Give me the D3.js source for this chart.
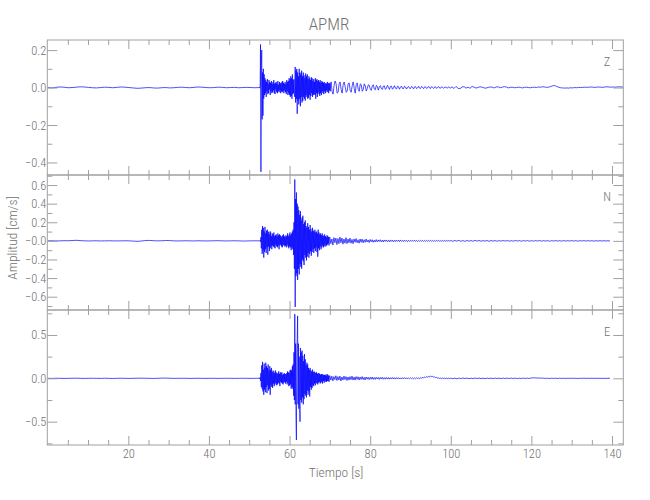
<!DOCTYPE html>
<html><head><meta charset="utf-8">
<script src="https://cdn.jsdelivr.net/npm/d3@7"></script>
<style>body{margin:0;background:#fff}svg{display:block}</style>
</head><body>
<svg id="chart" width="650" height="500"></svg>
<script>
// ---------- texts ----------
const title = "APMR";
const xTitle = "Tiempo [s]";
const yTitle = "Amplitud [cm/s]";
const componentNames = ["Z", "N", "E"];

// ---------- axes ticks ----------
const xTicks = [20, 40, 60, 80, 100, 120, 140];
const xTickLabels = ["20", "40", "60", "80", "100", "120", "140"];
const xMinorTicks = [5, 10, 15, 25, 30, 35, 45, 50, 55, 65, 70, 75, 85, 90, 95, 105, 110, 115, 125, 130, 135];
const xDomain = [-0.1, 142.8];

const zTicks = [-0.4, -0.2, 0.0, 0.2];
const zTickLabels = ["\u22120.4", "\u22120.2", "0.0", "0.2"];
const zMinor = [-0.3, -0.1, 0.1];
const zDomain = [-0.467, 0.254];

const nTicks = [-0.6, -0.4, -0.2, 0.0, 0.2, 0.4, 0.6];
const nTickLabels = ["\u22120.6", "\u22120.4", "\u22120.2", "\u22120.0", "0.2", "0.4", "0.6"];
const nMinor = [-0.7, -0.5, -0.3, -0.1, 0.1, 0.3, 0.5, 0.7];
const nDomain = [-0.743, 0.708];

const eTicks = [-0.5, 0.0, 0.5];
const eTickLabels = ["\u22120.5", "0.0", "0.5"];
const eMinor = [-0.75, -0.25, 0.25, 0.75];
const eDomain = [-0.769, 0.788];

// ---------- data: time spans of each trace segment [s] ----------
const zSpans = [[0, 52.4], [52.5, 70.2], [70.3, 100.0], [100.3, 143.2]];
const nSpans = [[0, 52.4], [52.5, 69.9], [70.0, 99.75], [100.0, 139.5]];
const eSpans = [[0, 52.4], [52.5, 69.9], [70.0, 99.75], [100.0, 139.5]];

// ---------- data: Z component [cm/s] ----------
const zNoise = [0.000, -0.002, 0.001, 0.003, 0.002, -0.001, 0.000, 0.002, 0.004, 0.003, 0.001, -0.001, -0.002, 0.000, 0.002, 0.001, -0.001, 0.001, 0.003, 0.002, 0.000, -0.002, -0.004, -0.003, -0.001, 0.000, -0.002, -0.003, -0.001, 0.000, -0.002, -0.001, 0.001, 0.002, 0.000, -0.001, 0.001, 0.003, 0.002, 0.000, -0.001, 0.000, 0.002, 0.001, -0.001, 0.000, 0.001, -0.001, 0.000, 0.001, 0.000, -0.001, 0.000];
const zStrong = [0.002, -0.003, 0.004,
  0.23, -0.45, 0.12, 0.20, -0.17, 0.08, -0.15, 0.10, -0.06, 0.07,
  -0.04, 0.05, -0.03, 0.04, -0.05, 0.03, -0.02, 0.045, -0.035, 0.02,
  -0.03, 0.04, -0.01, 0.03, -0.04, 0.025, -0.02, 0.035, -0.03, 0.02,
  -0.025, 0.03, -0.015, 0.04, -0.03, 0.02, -0.035, 0.025, -0.01, 0.03,
  -0.025, 0.02, -0.03, 0.035, -0.02, 0.015, -0.025, 0.03, -0.015, 0.025,
  -0.03, 0.02, -0.02, 0.03, -0.025, 0.035, -0.02, 0.025, -0.03, 0.02,
  -0.015, 0.03, -0.025, 0.02, -0.035, 0.04, -0.02, 0.03, -0.04, 0.035,
  -0.03, 0.05, -0.04, 0.045, -0.05, 0.06, -0.045, 0.05, -0.06, 0.07, -0.035, 0.04, -0.03, 0.045, -0.04,
  -0.05, 0.11, -0.08, 0.09, -0.06, 0.10, -0.14, 0.08, -0.07, 0.06,
  -0.09, 0.10, -0.06, 0.08, -0.10, 0.07, -0.05, 0.09, -0.08, 0.06,
  -0.07, 0.08, -0.05, 0.065, -0.06, 0.05, -0.07, 0.075, -0.04, 0.06,
  -0.05, 0.07, -0.06, 0.045, -0.055, 0.06, -0.04, 0.05, -0.065, 0.04,
  -0.045, 0.055, -0.03, 0.05, -0.05, 0.035, -0.04, 0.045, -0.035, 0.03,
  -0.04, 0.05, -0.06, 0.04, -0.03, 0.045, -0.05, 0.035, -0.025, 0.04,
  -0.035, 0.03, -0.045, 0.04, -0.03, 0.025, -0.04, 0.035, -0.02, 0.03,
  -0.03, 0.025, -0.035, 0.03, -0.02, 0.02, -0.03, 0.025, -0.015, 0.02,
  -0.025, 0.03, -0.02, 0.025, -0.03, 0.02, -0.015, 0.025, -0.02, 0.015];
const zCoda = [0.03, -0.02, -0.035, 0.01, 0.035, 0.02, -0.03, -0.025, 0.02, 0.03, -0.01, -0.03, 0.015, 0.03, 0.005, -0.025, -0.02, 0.02, 0.025, -0.015,
  -0.025, 0.01, 0.03, -0.005, -0.03, 0.015, 0.025, -0.01, -0.02, 0.02, 0.015, -0.02, -0.01, 0.02, 0.01, -0.018, -0.005, 0.015, 0.012, -0.01,
  -0.015, 0.01, 0.015, -0.008, -0.012, 0.012, 0.006, -0.014, 0.004, 0.01, -0.006, -0.01, 0.008, 0.009, -0.01, -0.004, 0.012, 0.002, -0.01, 0.006,
  0.008, -0.009, -0.003, 0.01, -0.002, -0.008, 0.007, 0.005, -0.009, 0.002, 0.008, -0.005, -0.006, 0.007, 0.003, -0.008, 0.001, 0.006, -0.004, -0.005,
  0.006, 0.002, -0.007, 0.004, 0.005, -0.006, -0.002, 0.007, -0.003, -0.005, 0.006, 0.001, -0.006, 0.004, 0.004, -0.005, -0.001, 0.006, -0.003, -0.004,
  0.005, 0.000, -0.005, 0.004, 0.003, -0.005, 0.001, 0.005, -0.003, -0.003, 0.004, 0.001, -0.004, 0.002, 0.003, -0.003, -0.001, 0.004, -0.002, -0.002];
const zTail = [0.004, -0.005, 0.006, -0.004, -0.006, 0.003, 0.005, -0.003, 0.002, -0.004, 0.006, 0.002, -0.003, 0.001, 0.004, 0.002, -0.002, -0.003, 0.001, 0.003,
  0.002, -0.002, 0.003, 0.004, -0.001, 0.002, 0.005, 0.003, -0.002, 0.001, 0.002, -0.001, 0.000, 0.002, 0.001, -0.002, 0.001, 0.002, 0.000, -0.001,
  0.001, 0.002, 0.000, 0.003, 0.002, 0.004, 0.003, 0.001, 0.002, 0.005, 0.009, 0.011, 0.006, 0.002, -0.001, -0.002, -0.003, -0.002, -0.003, -0.001,
  -0.002, 0.000, -0.001, 0.001, 0.000, 0.001, 0.002, 0.001, 0.002, 0.003, 0.002, 0.001, 0.002, 0.003, 0.002, 0.001, 0.003, 0.004, 0.003, 0.002, 0.003, 0.002, 0.003, 0.004, 0.003, 0.003, 0.003];

// ---------- data: N component [cm/s] ----------
const nNoise = [0.000, 0.001, -0.001, 0.000, 0.002, 0.001, 0.004, 0.006, 0.003, 0.000, -0.001, 0.000, 0.001, -0.001, 0.000, 0.001, 0.000, -0.001, 0.000, 0.001, 0.000, -0.002, -0.005, -0.002, 0.003, 0.005, 0.002, 0.000, 0.001, 0.004, 0.003, 0.000, -0.001, 0.000, 0.001, 0.000, -0.001, 0.001, 0.000, -0.001, 0.000, 0.001, 0.002, 0.000, -0.001, 0.000, 0.001, 0.000, -0.002, -0.001, 0.000, 0.001, 0.000];
const nStrong = [0.002, -0.003, 0.005, -0.01, 0.04,
  -0.08, 0.12, -0.14, 0.16, -0.10, 0.14, -0.18, 0.10, -0.12, 0.15,
  -0.09, 0.08, -0.13, 0.11, -0.07, 0.12, -0.15, 0.09, -0.06, 0.10,
  -0.11, 0.07, -0.08, 0.10, -0.06, 0.05, -0.09, 0.08, -0.05, 0.07,
  -0.06, 0.09, -0.07, 0.05, -0.08, 0.06, -0.04, 0.07, -0.06, 0.05,
  -0.07, 0.08, -0.05, 0.06, -0.09, 0.07, -0.05, 0.06, -0.04, 0.05,
  -0.06, 0.04, -0.07, 0.06, -0.05, 0.07, -0.04, 0.05, -0.06, 0.04,
  -0.05, 0.06, -0.07, 0.05, -0.04, 0.08, -0.06, 0.05, -0.08, 0.07,
  -0.06, 0.09, -0.07, 0.06, -0.10, 0.08, -0.07, 0.10, -0.09, 0.12,
  -0.15, 0.20, -0.30, 0.66, -0.71, 0.45, -0.38, 0.52, -0.35, 0.40,
  -0.42, 0.37, -0.30, 0.33, -0.36, 0.28, -0.25, 0.32, -0.28, 0.22,
  -0.30, 0.25, -0.20, 0.27, -0.22, 0.18, -0.26, 0.20, -0.15, 0.22,
  -0.18, 0.16, -0.21, 0.14, -0.17, 0.19, -0.13, 0.15, -0.18, 0.12,
  -0.14, 0.17, -0.11, 0.13, -0.16, 0.10, -0.12, 0.14, -0.09, 0.11,
  -0.13, 0.10, -0.08, 0.12, -0.11, 0.09, -0.07, 0.10, -0.12, 0.08,
  -0.17, 0.12, -0.08, 0.09, -0.10, 0.07, -0.06, 0.08, -0.09, 0.06,
  -0.07, 0.08, -0.05, 0.06, -0.07, 0.05, -0.06, 0.07, -0.04, 0.05,
  -0.06, 0.04, -0.05, 0.06, -0.04, 0.05, -0.03, 0.04, -0.05, 0.04];
const nCoda = [0.04, -0.03, 0.02, -0.045, 0.035, -0.02, 0.03, -0.04, 0.025, -0.03, 0.04, -0.02, 0.03, -0.035, 0.02, -0.025, 0.035, -0.03, 0.02, -0.02,
  0.03, -0.025, 0.015, -0.03, 0.02, -0.015, 0.025, -0.02, 0.012, -0.025, 0.02, -0.015, 0.018, -0.02, 0.012, -0.015, 0.02, -0.012, 0.01, -0.018,
  0.015, -0.01, 0.012, -0.015, 0.008, -0.012, 0.014, -0.01, 0.01, -0.008, 0.012, -0.01, 0.008, -0.012, 0.01, -0.006, 0.01, -0.008, 0.006, -0.01,
  0.01, -0.006, 0.008, -0.01, 0.006, -0.008, 0.009, -0.005, 0.007, -0.008, 0.01, -0.006, 0.005, -0.007, 0.008, -0.005, 0.006, -0.008, 0.005, -0.006,
  0.007, -0.005, 0.006, -0.004, 0.008, -0.006, 0.005, -0.007, 0.004, -0.005, 0.006, -0.004, 0.005, -0.006, 0.004, -0.005, 0.006, -0.004, 0.005, -0.004,
  0.005, -0.004, 0.004, -0.005, 0.003, -0.004, 0.005, -0.003, 0.004, -0.004, 0.003, -0.005, 0.004, -0.003, 0.004, -0.004, 0.003, -0.003, 0.004, -0.003];
const nTail = [0.003, -0.004, 0.004, -0.003, 0.005, -0.004, 0.003, -0.005, 0.004, -0.003, 0.003, -0.004, 0.005, -0.003, 0.004, -0.004, 0.003, -0.003, 0.004, -0.005,
  0.004, -0.003, 0.003, -0.004, 0.003, -0.003, 0.004, -0.002, 0.003, -0.003, 0.002, -0.003, 0.004, -0.002, 0.003, -0.004, 0.003, -0.002, 0.003, -0.003,
  0.002, -0.003, 0.003, -0.002, 0.004, -0.003, 0.002, -0.002, 0.003, -0.004, 0.002, -0.002, 0.003, -0.002, 0.002, -0.003, 0.003, -0.002, 0.002, -0.002,
  0.003, -0.002, 0.002, -0.003, 0.002, -0.002, 0.003, -0.002, 0.002, -0.002, 0.002, -0.003, 0.002, -0.002, 0.002, -0.002, 0.002, -0.001, 0.001, -0.001];

// ---------- data: E component [cm/s] ----------
const eNoise = [0.000, -0.001, 0.001, 0.000, -0.001, 0.000, 0.001, 0.002, 0.000, -0.001, 0.000, 0.001, 0.000, -0.001, 0.001, 0.000, -0.002, 0.000, 0.001, 0.000, -0.001, 0.000, 0.001, 0.002, 0.001, 0.000, -0.001, 0.000, 0.002, 0.003, 0.001, -0.001, 0.000, 0.001, 0.000, -0.001, 0.000, 0.001, 0.000, -0.001, 0.001, 0.000, -0.001, 0.000, 0.001, 0.000, -0.001, 0.000, 0.001, 0.000, -0.001, 0.000, 0.001];
const eStrong = [0.003, -0.005, 0.01, -0.03, 0.06,
  -0.10, 0.15, -0.12, 0.19, -0.15, 0.10, -0.19, 0.17, -0.13, 0.12,
  -0.16, 0.18, -0.10, 0.14, -0.17, 0.12, -0.08, 0.16, -0.14, 0.09,
  -0.12, 0.14, -0.19, 0.10, -0.08, 0.12, -0.10, 0.07, -0.11, 0.09,
  -0.06, 0.08, -0.09, 0.06, -0.07, 0.09, -0.05, 0.07, -0.08, 0.05,
  -0.07, 0.06, -0.05, 0.08, -0.06, 0.05, -0.09, 0.07, -0.04, 0.06,
  -0.05, 0.07, -0.06, 0.04, -0.07, 0.05, -0.05, 0.06, -0.04, 0.05,
  -0.06, 0.05, -0.04, 0.06, -0.07, 0.08, -0.05, 0.07, -0.09, 0.06,
  -0.08, 0.09, -0.07, 0.10, -0.12, 0.09, -0.10, 0.14, -0.12, 0.16,
  -0.20, 0.30, -0.25, 0.74, -0.30, 0.40, -0.45, -0.71, 0.30, 0.45,
  0.72, -0.30, 0.40, -0.35, 0.25, -0.30, -0.50, 0.35, -0.25, 0.30,
  -0.28, 0.32, -0.22, 0.26, -0.30, 0.20, -0.24, 0.28, -0.18, 0.22,
  -0.20, 0.15, -0.22, 0.18, -0.14, 0.16, -0.19, 0.12, -0.15, 0.10,
  -0.21, 0.12, -0.10, 0.09, -0.13, 0.08, -0.11, 0.10, -0.08, 0.07,
  -0.09, 0.08, -0.06, 0.07, -0.08, 0.06, -0.05, 0.07, -0.06, 0.05,
  -0.07, 0.06, -0.05, 0.06, -0.04, 0.05, -0.06, 0.04, -0.05, 0.05,
  -0.04, 0.05, -0.06, 0.04, -0.03, 0.04, -0.05, 0.04, -0.03, 0.04,
  -0.04, 0.03, -0.04, 0.05, -0.03, 0.04, -0.03, 0.03, -0.04, 0.03];
const eCoda = [0.03, -0.02, 0.025, -0.03, 0.02, -0.015, 0.03, -0.025, 0.02, -0.02, 0.025, -0.03, 0.015, -0.02, 0.025, -0.015, 0.02, -0.025, 0.015, -0.02,
  0.02, -0.015, 0.025, -0.02, 0.015, -0.02, 0.02, -0.012, 0.018, -0.02, 0.015, -0.012, 0.02, -0.015, 0.012, -0.018, 0.015, -0.01, 0.012, -0.015,
  0.012, -0.01, 0.015, -0.012, 0.01, -0.012, 0.012, -0.008, 0.01, -0.012, 0.01, -0.008, 0.012, -0.01, 0.008, -0.01, 0.01, -0.008, 0.009, -0.01,
  0.008, -0.007, 0.01, -0.008, 0.007, -0.009, 0.008, -0.006, 0.008, -0.007, 0.006, -0.008, 0.007, -0.006, 0.008, -0.006, 0.006, -0.007, 0.006, -0.005,
  0.006, -0.004, 0.005, -0.006, 0.004, -0.005, 0.006, -0.003, 0.005, -0.004, 0.006, 0.002, 0.01, 0.006, 0.014, 0.01, 0.018, 0.014, 0.022, 0.018,
  0.026, 0.02, 0.022, 0.014, 0.016, 0.008, 0.01, 0.002, 0.006, -0.003, 0.004, -0.005, 0.004, -0.003, 0.003, -0.004, 0.004, -0.003, 0.003, -0.004];
const eTail = [0.003, -0.004, 0.002, -0.005, 0.003, -0.003, 0.004, -0.002, 0.003, -0.004, 0.002, -0.003, 0.004, -0.002, 0.003, -0.003, 0.002, -0.004, 0.003, -0.002,
  0.002, -0.003, 0.003, -0.002, 0.002, -0.003, 0.003, -0.002, 0.002, -0.002, 0.003, -0.002, 0.002, -0.003, 0.002, -0.002, 0.003, -0.001, 0.002, -0.002,
  0.004, 0.006, 0.005, 0.003, 0.004, 0.001, 0.002, -0.001, 0.001, -0.002, 0.002, -0.001, 0.001, -0.002, 0.002, -0.001, 0.001, -0.002, 0.001, -0.001,
  0.002, -0.001, 0.001, -0.002, 0.001, -0.001, 0.002, -0.001, 0.001, -0.001, 0.002, -0.001, 0.001, -0.001, 0.001, -0.001, 0.001, -0.001, 0.001, 0.000];

// ---------- build ----------
function buildTrace(spans, segments) {
  const pts = [];
  segments.forEach((vals, k) => {
    const [t0, t1] = spans[k];
    const n = vals.length;
    vals.forEach((v, i) => pts.push([t0 + (n > 1 ? (t1 - t0) * i / (n - 1) : 0), v]));
  });
  return pts;
}

const panels = [
  {name: componentNames[0], top: 40, bottom: 175, domain: zDomain, ticks: zTicks, labels: zTickLabels, minor: zMinor,
   data: buildTrace(zSpans, [zNoise, zStrong, zCoda, zTail])},
  {name: componentNames[1], top: 175, bottom: 310, domain: nDomain, ticks: nTicks, labels: nTickLabels, minor: nMinor,
   data: buildTrace(nSpans, [nNoise, nStrong, nCoda, nTail])},
  {name: componentNames[2], top: 310, bottom: 445, domain: eDomain, ticks: eTicks, labels: eTickLabels, minor: eMinor,
   data: buildTrace(eSpans, [eNoise, eStrong, eCoda, eTail])}
];

const svg = d3.select("#chart");
const L = 47.3, R = 623.3;
const FONT = "'Roboto Condensed', 'Liberation Sans Narrow', 'DejaVu Sans Condensed', Roboto, sans-serif";
const FW = 300;
const AXC = "#a0a0a0", TXC = "#707070";
const x = d3.scaleLinear().domain(xDomain).range([L, R]);

svg.append("text").attr("x", 329).attr("y", 30).attr("text-anchor", "middle")
  .attr("font-family", FONT).attr("font-weight", FW).attr("font-size", 17).attr("fill", TXC).text(title);

panels.forEach((p, idx) => {
  const y = d3.scaleLinear().domain(p.domain).range([p.bottom, p.top]);
  const g = svg.append("g");
  const clipId = "clip" + idx;
  svg.append("clipPath").attr("id", clipId).append("rect")
    .attr("x", L).attr("y", p.top).attr("width", R - L).attr("height", p.bottom - p.top);

  // trace
  g.append("path").datum(p.data)
    .attr("clip-path", `url(#${clipId})`)
    .attr("fill", "none").attr("stroke", "#0000ff").attr("stroke-width", 0.7)
    .attr("stroke-linejoin", "miter")
    .attr("d", d3.line().x(d => x(d[0])).y(d => y(d[1])));

  const styleAxis = (sel) => {
    sel.select(".domain").remove();
    sel.selectAll("line").attr("stroke", AXC);
    sel.selectAll("text").attr("font-family", FONT).attr("font-weight", FW).attr("font-size", 12.5).attr("fill", TXC);
  };

  // y axes (left with labels, right mirrored)
  g.append("g").attr("transform", `translate(${L},0)`)
    .call(d3.axisLeft(y).tickValues(p.ticks).tickSize(-10).tickSizeOuter(0).tickPadding(1)
      .tickFormat((d, i) => p.labels[i])).call(styleAxis);
  g.append("g").attr("transform", `translate(${L},0)`)
    .call(d3.axisLeft(y).tickValues(p.minor).tickSize(-5).tickSizeOuter(0).tickFormat("")).call(styleAxis);
  g.append("g").attr("transform", `translate(${R},0)`)
    .call(d3.axisRight(y).tickValues(p.ticks).tickSize(-10).tickSizeOuter(0).tickFormat("")).call(styleAxis);
  g.append("g").attr("transform", `translate(${R},0)`)
    .call(d3.axisRight(y).tickValues(p.minor).tickSize(-5).tickSizeOuter(0).tickFormat("")).call(styleAxis);

  // x axes top and bottom
  const isLast = idx === panels.length - 1;
  g.append("g").attr("transform", `translate(0,${p.bottom})`)
    .call(d3.axisBottom(x).tickValues(xTicks).tickSize(-9).tickSizeOuter(0).tickPadding(4)
      .tickFormat((d, i) => isLast ? xTickLabels[i] : "")).call(styleAxis);
  g.append("g").attr("transform", `translate(0,${p.bottom})`)
    .call(d3.axisBottom(x).tickValues(xMinorTicks).tickSize(-5).tickSizeOuter(0).tickFormat("")).call(styleAxis);
  g.append("g").attr("transform", `translate(0,${p.top})`)
    .call(d3.axisTop(x).tickValues(xTicks).tickSize(-9).tickSizeOuter(0).tickFormat("")).call(styleAxis);
  g.append("g").attr("transform", `translate(0,${p.top})`)
    .call(d3.axisTop(x).tickValues(xMinorTicks).tickSize(-5).tickSizeOuter(0).tickFormat("")).call(styleAxis);

  // frame
  g.append("rect").attr("x", L).attr("y", p.top).attr("width", R - L).attr("height", p.bottom - p.top)
    .attr("fill", "none").attr("stroke", AXC).attr("stroke-width", 1);

  // component label
  g.append("text").attr("x", 607).attr("y", p.top + 26).attr("text-anchor", "middle")
    .attr("font-family", FONT).attr("font-weight", FW).attr("font-size", 12.5).attr("fill", TXC).text(p.name);
});

svg.append("text").attr("x", 336).attr("y", 477).attr("text-anchor", "middle")
  .attr("font-family", FONT).attr("font-weight", FW).attr("font-size", 13.5).attr("fill", TXC).text(xTitle);
svg.append("text").attr("transform", "translate(17,238) rotate(-90)").attr("text-anchor", "middle")
  .attr("font-family", FONT).attr("font-weight", FW).attr("font-size", 13.5).attr("fill", TXC).text(yTitle);
</script>
</body></html>
